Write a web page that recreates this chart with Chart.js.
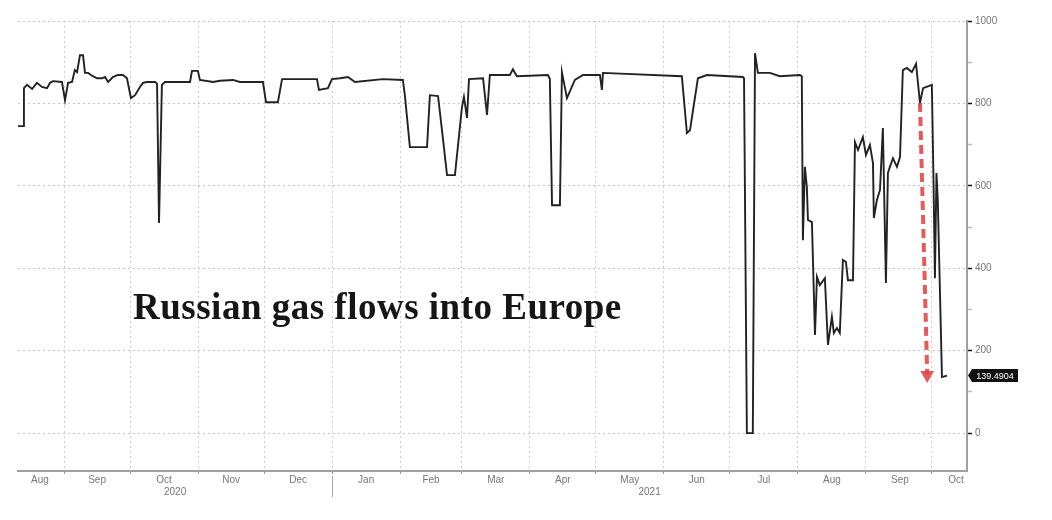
<!DOCTYPE html>
<html><head><meta charset="utf-8">
<script src="https://cdn.jsdelivr.net/npm/chart.js@4.4.1/dist/chart.umd.min.js"></script>
<style>
html,body{margin:0;padding:0;background:#fff;}
#wrap{position:relative;width:1052px;height:520px;}
#title{position:absolute;left:133px;top:288px;font-family:"Liberation Serif",serif;font-weight:bold;font-size:37px;line-height:37px;letter-spacing:0.5px;color:#161616;white-space:nowrap;}
</style></head><body>
<div id="wrap"><canvas id="c" width="1052" height="520"></canvas><div id="title">Russian gas flows into Europe</div></div>
<script>
// x values: days since 2020-08-11
const days = [0,2.3,2.7,4.1,6.4,8.6,10.9,13.2,14.6,15.9,20.0,21.4,22.8,24.6,25.9,26.9,28.2,29.6,30.5,31.9,34.1,36.0,38.2,39.6,41.0,43.2,45.5,47.8,49.6,51.4,53.3,55.5,56.9,58.7,62.4,63.3,64.2,65.5,66.9,78.3,79.2,81.9,82.8,88.8,91.9,97.9,101.0,111.5,112.9,118.3,120.2,136.1,137.0,141.1,142.9,146.6,150.2,153.4,166.1,175.2,176.1,178.4,186.2,187.5,191.2,193.0,195.3,198.9,202.1,203.0,204.4,205.3,211.7,213.5,214.8,223.9,225.3,227.1,241.2,242.1,243.1,246.7,247.6,249.9,253.5,257.2,264.9,265.8,266.3,302.2,304.5,305.9,309.5,313.6,330.0,330.5,331.8,334.5,335.5,336.8,342.3,346.8,355.9,356.8,357.3,358.2,359.1,359.6,361.4,362.8,363.7,365.0,367.3,368.7,370.5,371.4,372.8,374.1,375.5,376.9,377.8,380.1,381.0,382.4,384.6,386.0,387.8,389.2,389.6,391.0,392.4,393.7,395.1,396.0,396.9,398.3,400.1,401.5,402.8,404.6,406.9,408.8,410.6,412.0,416.0,416.7,417.4,418.1,418.7,420.6,422.9];
const flows = [745,745,837,845,835,850,840,837,850,854,852,808,850,852,881,876,917,917,874,874,866,861,861,864,852,864,869,869,861,813,820,840,850,852,852,848,510,845,852,852,879,879,857,852,855,857,852,852,803,803,859,859,833,837,859,861,864,852,859,857,820,694,694,820,818,735,626,626,791,816,765,859,861,772,869,869,883,866,869,860,553,553,876,813,857,869,869,833,874,866,728,735,861,869,864,861,0,0,922,874,874,866,869,866,468,646,597,517,512,238,379,359,376,214,282,243,255,243,420,415,371,371,706,687,718,675,699,655,522,566,590,740,364,631,646,667,646,670,881,886,876,896,801,837,845,631,376,631,566,136,139.4904];

const monthBoundaries = [21,51,82,112,143,174,202,233,263,294,324,355,386,416];
const monthLabels = ['Aug','Sep','Oct','Nov','Dec','Jan','Feb','Mar','Apr','May','Jun','Jul','Aug','Sep','Oct'];
const monthLabelDays = [10,36,66.5,97,127.5,158.5,188,217.5,248,278.5,309,339.5,370.5,401.5,427];
const yearLabels = ['2020','2021'];
const yearLabelDays = [71.5,287.5];
const yearBreakDay = 143;
const yTickValues = [0,100,200,300,400,500,600,700,800,900,1000];
const arrowDays = [410.6,413.9];
const arrowValues = [801,141];

const X_MIN = 0, X_MAX = 432, Y_MIN = -92, Y_MAX = 1000;
const labelFont = {family:'"Liberation Sans", Arial, sans-serif', size:10};
const isMajorY = v => v % 200 === 0;

const extras = {
  id:'extras',
  afterDraw(chart){
    const ctx = chart.ctx, ca = chart.chartArea;
    const xs = chart.scales.x, ys = chart.scales.y;
    const bx = Math.round(xs.getPixelForValue(yearBreakDay)) + 0.5;
    ctx.save();
    ctx.strokeStyle = '#aaa'; ctx.lineWidth = 1;
    ctx.beginPath(); ctx.moveTo(bx, ca.bottom + 5); ctx.lineTo(bx, ca.bottom + 26); ctx.stroke();
    const last = flows[flows.length - 1];
    const y = ys.getPixelForValue(last);
    const x0 = ca.right + 5;
    ctx.fillStyle = '#111';
    ctx.beginPath();
    ctx.moveTo(x0 - 4, y); ctx.lineTo(x0, y - 6.5); ctx.lineTo(x0 + 46, y - 6.5);
    ctx.lineTo(x0 + 46, y + 6.5); ctx.lineTo(x0, y + 6.5); ctx.closePath(); ctx.fill();
    ctx.fillStyle = '#fff'; ctx.font = '9px "Liberation Sans", Arial, sans-serif';
    ctx.textAlign = 'center'; ctx.textBaseline = 'middle';
    ctx.fillText(String(last), x0 + 23, y + 0.5);
    ctx.restore();
  }
};

new Chart(document.getElementById('c'), {
  type:'line',
  data:{
    datasets:[
      {
        data: arrowDays.map((d,i)=>({x:d,y:arrowValues[i]})),
        borderColor:'rgba(226,72,72,0.9)', borderWidth:4, borderDash:[9,5],
        pointRadius:[0,8], pointStyle:'triangle', pointRotation:180,
        pointBackgroundColor:'rgba(226,72,72,0.9)', pointBorderWidth:0,
        order:0, xAxisID:'x', yAxisID:'y'
      },
      {
        data: days.map((d,i)=>({x:d,y:flows[i]})),
        borderColor:'#222', borderWidth:1.9, pointRadius:0, tension:0,
        order:1, xAxisID:'x', yAxisID:'y'
      }
    ]
  },
  options:{
    responsive:false, animation:false, devicePixelRatio:1,
    layout:{padding:{left:18, top:21, right:0, bottom:22}},
    plugins:{legend:{display:false}, tooltip:{enabled:false}},
    scales:{
      x:{
        type:'linear', position:'bottom', min:X_MIN, max:X_MAX,
        afterBuildTicks(s){
          s.ticks = monthBoundaries.concat(monthLabelDays).sort((a,b)=>a-b).map(v=>({value:v}));
        },
        afterFit(s){ s.height = 15; },
        grid:{
          color: c => (c.tick && monthBoundaries.includes(c.tick.value)) ? '#cfcfcf' : 'rgba(0,0,0,0)',
          tickColor: c => (c.tick && monthBoundaries.includes(c.tick.value)) ? '#999' : 'rgba(0,0,0,0)',
          tickLength:3, lineWidth:1
        },
        border:{display:true, color:'#a0a0a0', width:2, dash:[2,3]},
        ticks:{
          autoSkip:false, maxRotation:0, minRotation:0, padding:0, color:'#777', font:labelFont,
          callback:(v)=>{ const i = monthLabelDays.indexOf(v); return i >= 0 ? monthLabels[i] : ''; }
        }
      },
      xYear:{
        type:'linear', position:'bottom', min:X_MIN, max:X_MAX,
        afterBuildTicks(s){ s.ticks = yearLabelDays.map(v=>({value:v})); },
        afterFit(s){ s.height = 12; },
        grid:{display:false, drawTicks:false, drawOnChartArea:false},
        border:{display:false},
        ticks:{
          autoSkip:false, maxRotation:0, minRotation:0, padding:0, color:'#777', font:labelFont,
          callback:(v)=>{ const i = yearLabelDays.indexOf(v); return i >= 0 ? yearLabels[i] : ''; }
        }
      },
      y:{
        type:'linear', position:'right', min:Y_MIN, max:Y_MAX,
        afterBuildTicks(s){ s.ticks = yTickValues.map(v=>({value:v})); },
        afterFit(s){ s.width = 85; },
        grid:{
          color: c => (c.tick && isMajorY(c.tick.value)) ? '#c4c4c4' : 'rgba(0,0,0,0)',
          tickColor: c => (c.tick && isMajorY(c.tick.value)) ? '#111' : '#bbb',
          tickLength:5, lineWidth:1, tickWidth:1.5
        },
        border:{display:true, color:'#a0a0a0', width:2, dash:[2,3]},
        ticks:{
          padding:3, color:'#777', font:labelFont, autoSkip:false,
          callback:(v)=> isMajorY(v) ? String(v) : ''
        }
      }
    }
  },
  plugins:[extras]
});
</script>
</body></html>
